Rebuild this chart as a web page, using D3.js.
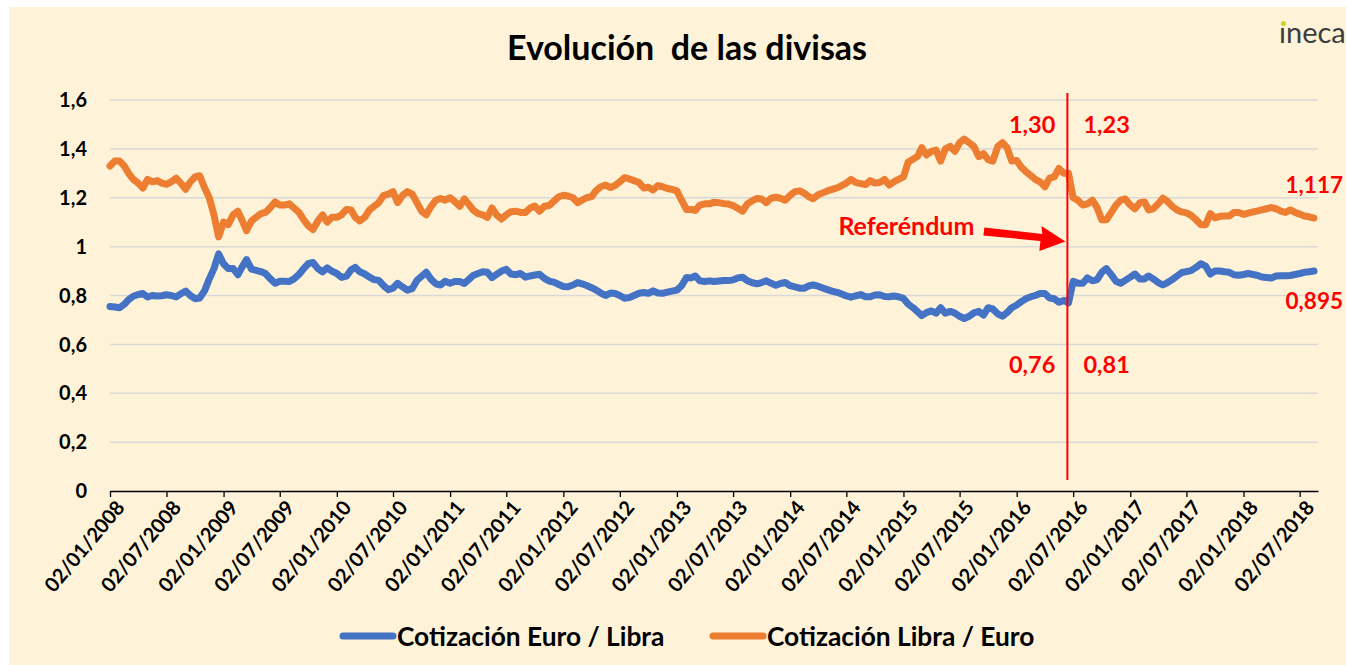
<!DOCTYPE html>
<html><head><meta charset="utf-8">
<script src="https://cdn.jsdelivr.net/npm/d3@7"></script>
<style>
html,body{margin:0;padding:0;background:#fff;}
svg{display:block;}
text{font-family:Lato,"Open Sans",sans-serif;}
</style></head><body>
<svg id="chart" width="1346" height="665"></svg>
<script>
// ---------- DATA ----------
const title = "Evolución  de las divisas";
const seriesNames = ["Cotización Euro / Libra", "Cotización Libra / Euro"];
const yTickValues = [0, 0.2, 0.4, 0.6, 0.8, 1, 1.2, 1.4, 1.6];
const yTickLabels = ["0", "0,2", "0,4", "0,6", "0,8", "1", "1,2", "1,4", "1,6"];
const firstDate = "2008-01-02";
const lastAxisDate = "2018-08-30";
const sampleDays = [2, 17]; // two readings per month
const referendumDate = "2016-06-23";
const referendumLabel = "Referéndum";
const annotations = [
  {text: "1,30", side: "left", row: "top"},
  {text: "1,23", side: "right", row: "top"},
  {text: "0,76", side: "left", row: "bottom"},
  {text: "0,81", side: "right", row: "bottom"},
  {text: "1,117", side: "end", row: "orangeEnd"},
  {text: "0,895", side: "end", row: "blueEnd"}
];

const euroLibra = [
 .755,.753,.75,.764,.783,.797,.804,.808,.794,.80,
 .798,.799,.803,.80,.794,.807,.818,.80,.787,.79,
 .82,.868,.91,.97,.93,.91,.91,.885,.915,.947,
 .908,.903,.898,.89,.868,.85,.858,.858,.857,.868,
 .886,.91,.93,.935,.91,.897,.913,.90,.89,.874,
 .879,.905,.915,.897,.888,.875,.865,.862,.84,.824,
 .83,.85,.835,.822,.828,.862,.878,.895,.866,.848,
 .843,.858,.85,.857,.857,.849,.864,.882,.89,.897,
 .895,.873,.887,.90,.907,.888,.885,.89,.875,.88,
 .884,.887,.87,.859,.855,.846,.837,.836,.843,.853,
 .848,.841,.832,.822,.81,.80,.81,.808,.80,.789,
 .792,.80,.809,.812,.809,.819,.81,.809,.814,.818,
 .822,.84,.874,.872,.88,.86,.857,.86,.857,.859,
 .861,.861,.864,.872,.875,.86,.852,.848,.853,.86,
 .85,.842,.849,.853,.84,.835,.83,.83,.839,.843,
 .838,.831,.824,.818,.813,.806,.798,.793,.799,.804,
 .795,.795,.802,.803,.796,.795,.798,.795,.788,.765,
 .75,.733,.718,.73,.737,.728,.75,.728,.735,.728,
 .715,.706,.715,.729,.735,.72,.75,.745,.725,.715,
 .73,.75,.761,.775,.788,.795,.80,.808,.808,.79,
 .787,.772,.78,.77,.858,.85,.85,.872,.86,.865,
 .895,.91,.885,.858,.85,.862,.875,.888,.868,.868,
 .88,.868,.853,.843,.853,.865,.88,.894,.898,.902,
 .915,.93,.92,.888,.90,.90,.897,.895,.885,.883,
 .886,.89,.886,.882,.876,.874,.872,.88,.881,.881,
 .882,.886,.89,.895,.897,.90
];
const libraEuro = [
 1.33,1.35,1.35,1.33,1.30,1.275,1.26,1.24,1.275,1.265,
 1.27,1.26,1.255,1.265,1.28,1.26,1.235,1.265,1.285,1.29,
 1.24,1.20,1.13,1.04,1.10,1.09,1.13,1.145,1.11,1.065,
 1.105,1.12,1.135,1.14,1.16,1.183,1.17,1.17,1.175,1.158,
 1.14,1.11,1.085,1.07,1.105,1.13,1.10,1.12,1.12,1.13,
 1.152,1.15,1.12,1.105,1.12,1.15,1.165,1.18,1.21,1.215,
 1.225,1.18,1.21,1.225,1.215,1.18,1.145,1.13,1.165,1.19,
 1.197,1.19,1.20,1.185,1.165,1.195,1.175,1.15,1.135,1.13,
 1.12,1.158,1.128,1.113,1.13,1.143,1.145,1.14,1.14,1.158,
 1.166,1.145,1.165,1.168,1.185,1.203,1.21,1.207,1.20,1.18,
 1.19,1.20,1.205,1.23,1.245,1.252,1.242,1.25,1.265,1.282,
 1.277,1.27,1.262,1.24,1.243,1.232,1.25,1.245,1.238,1.234,
 1.228,1.19,1.152,1.152,1.148,1.17,1.175,1.175,1.182,1.18,
 1.176,1.174,1.168,1.157,1.145,1.175,1.188,1.197,1.195,1.18,
 1.198,1.202,1.198,1.19,1.21,1.225,1.228,1.218,1.205,1.196,
 1.212,1.22,1.228,1.234,1.24,1.25,1.26,1.275,1.262,1.258,
 1.254,1.27,1.26,1.262,1.275,1.252,1.265,1.275,1.285,1.345,
 1.358,1.37,1.405,1.375,1.39,1.395,1.35,1.40,1.41,1.39,
 1.425,1.44,1.425,1.41,1.368,1.38,1.356,1.35,1.41,1.425,
 1.405,1.35,1.352,1.325,1.305,1.29,1.275,1.265,1.245,1.28,
 1.285,1.32,1.30,1.30,1.20,1.19,1.17,1.175,1.19,1.16,
 1.11,1.11,1.14,1.17,1.19,1.195,1.17,1.155,1.18,1.183,
 1.15,1.155,1.175,1.198,1.185,1.165,1.15,1.142,1.138,1.128,
 1.11,1.09,1.09,1.135,1.118,1.124,1.125,1.125,1.14,1.14,
 1.132,1.137,1.142,1.146,1.15,1.155,1.16,1.155,1.145,1.14,
 1.15,1.14,1.133,1.125,1.122,1.117
];

// ---------- BUILD ----------
const parse = d3.timeParse("%Y-%m-%d");
const fmt = d3.timeFormat("%d/%m/%Y");
const start = parse(firstDate);
const dates = [];
for (let y = start.getFullYear(); dates.length < euroLibra.length; y++) {
  for (let m = 0; m < 12 && dates.length < euroLibra.length; m++) {
    for (const d of sampleDays) { if (dates.length < euroLibra.length) dates.push(new Date(y, m, d)); }
  }
}
const tickDates = [];
for (let y = 2008; y <= 2018; y++) { tickDates.push(new Date(y, 0, 2)); tickDates.push(new Date(y, 6, 2)); }

const W = 1346, H = 665;
const colors = ["#4472C4", "#ED7D31"];
const red = "#FF0000";
const svg = d3.select("#chart");
svg.append("rect").attr("x", 9).attr("y", 7).attr("width", W - 9).attr("height", H - 7).attr("fill", "#FEF3D8");

const x = d3.scaleTime().domain([start, parse(lastAxisDate)]).range([110, 1318]);
const y = d3.scaleLinear().domain([0, 1.6]).range([491, 100]);

// gridlines
svg.append("g").selectAll("line").data(yTickValues.filter(v => v > 0)).join("line")
  .attr("x1", 110).attr("x2", 1318).attr("y1", d => y(d)).attr("y2", d => y(d))
  .attr("stroke", "#D9D9D9").attr("stroke-width", 1.5);

// y labels
svg.append("g").selectAll("text").data(yTickValues).join("text")
  .attr("x", 87).attr("y", d => y(d)).attr("dy", "0.36em")
  .attr("text-anchor", "end").attr("font-size", 20).attr("font-weight", 700).attr("fill", "#000")
  .text((d, i) => yTickLabels[i]);

// x axis
const xAxis = d3.axisBottom(x).tickValues(tickDates).tickSize(6).tickSizeOuter(0).tickFormat("");
const gx = svg.append("g").attr("transform", `translate(0,${y(0)})`).call(xAxis);
gx.select(".domain").attr("stroke", "#000").attr("stroke-width", 1.3);
gx.selectAll(".tick line").attr("stroke", "#000").attr("stroke-width", 1.3);
svg.append("g").selectAll("text").data(tickDates).join("text")
  .attr("transform", d => `translate(${x(d) + 5},${y(0) + 8}) rotate(-50)`)
  .attr("text-anchor", "end").attr("dy", "0.7em")
  .attr("font-size", 20).attr("font-weight", 700).attr("fill", "#000")
  .text(d => fmt(d));

// series lines
const seriesData = [euroLibra, libraEuro];
const line = d3.line().x((d, i) => x(dates[i])).y(d => y(d));
seriesData.forEach((s, k) => {
  svg.append("path").datum(s).attr("d", line).attr("fill", "none")
    .attr("stroke", colors[k]).attr("stroke-width", 7)
    .attr("stroke-linejoin", "round").attr("stroke-linecap", "round");
});

// title
svg.append("text").attr("x", 687).attr("y", 60).attr("text-anchor", "middle")
  .attr("font-size", 34).attr("font-weight", 700).attr("fill", "#000")
  .style("white-space", "pre").text(title);

// logo
svg.append("text").attr("x", 1279).attr("y", 43).attr("font-size", 29)
  .attr("fill", "#3c3c3c").attr("font-weight", 400).text("\u0131neca");
svg.append("circle").attr("cx", 1283.5).attr("cy", 23.5).attr("r", 2.6).attr("fill", "#C8D62A");

// referendum line
const rx = x(parse(referendumDate)) - 3;
svg.append("line").attr("x1", rx).attr("x2", rx).attr("y1", y(1.6) - 7).attr("y2", 480)
  .attr("stroke", red).attr("stroke-width", 2);

// arrow
const arrow = d3.path();
arrow.moveTo(rx - 83, 227.5); arrow.lineTo(rx - 25, 234); arrow.lineTo(rx - 26, 226);
arrow.lineTo(rx - 2, 241.5); arrow.lineTo(rx - 28, 251); arrow.lineTo(rx - 27, 241);
arrow.lineTo(rx - 84, 235.5); arrow.closePath();
svg.append("path").attr("d", arrow.toString()).attr("fill", red);
svg.append("text").attr("x", rx - 229).attr("y", 235).attr("font-size", 25)
  .attr("font-weight", 700).attr("fill", red).text(referendumLabel);

// annotations
const rowY = {top: 133, bottom: 373, orangeEnd: 193, blueEnd: 309};
annotations.forEach(a => {
  let ax, anchor, fs = 23.5;
  if (a.side === "left") { ax = rx - 12; anchor = "end"; }
  else if (a.side === "right") { ax = rx + 16; anchor = "start"; }
  else { ax = 1343; anchor = "end"; fs = 22.5; }
  svg.append("text").attr("x", ax).attr("y", rowY[a.row]).attr("text-anchor", anchor)
    .attr("font-size", fs).attr("font-weight", 700).attr("fill", red).text(a.text);
});

// legend
const legendX = [343, 713];
seriesNames.forEach((n, k) => {
  svg.append("line").attr("x1", legendX[k]).attr("x2", legendX[k] + 50).attr("y1", 636).attr("y2", 636)
    .attr("stroke", colors[k]).attr("stroke-width", 7).attr("stroke-linecap", "round");
  svg.append("text").attr("x", legendX[k] + 54).attr("y", 645.5).attr("font-size", 26.3)
    .attr("font-weight", 700).attr("fill", "#000").text(n);
});
</script>
</body></html>
